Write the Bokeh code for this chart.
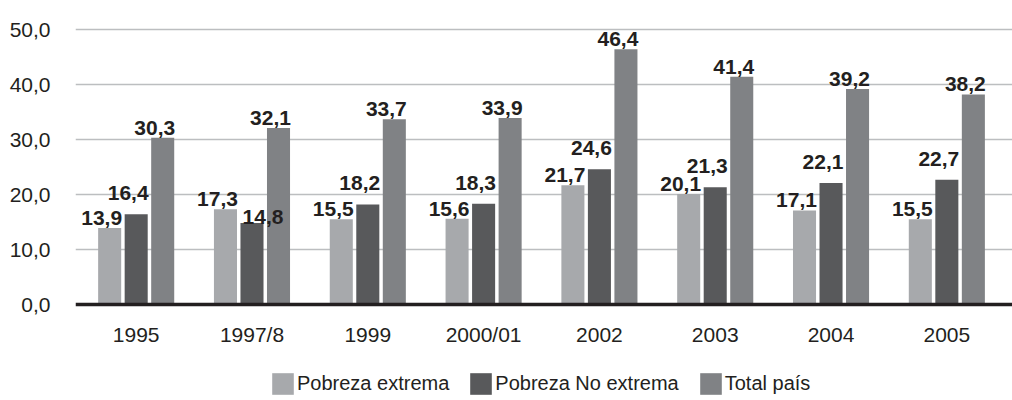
import numpy as np
from bokeh.plotting import figure
from bokeh.models import ColumnDataSource, Range1d, FixedTicker, Legend, LegendItem
from bokeh.core.properties import value
from bokeh.embed import file_html
from bokeh.resources import INLINE

categories = ["1995", "1997/8", "1999", "2000/01", "2002", "2003", "2004", "2005"]
pobreza_extrema = [13.9, 17.3, 15.5, 15.6, 21.7, 20.1, 17.1, 15.5]
pobreza_no_extrema = [16.4, 14.8, 18.2, 18.3, 24.6, 21.3, 22.1, 22.7]
total_pais = [30.3, 32.1, 33.7, 33.9, 46.4, 41.4, 39.2, 38.2]
y_ticks = [0, 10, 20, 30, 40, 50]
series_names = ["Pobreza extrema", "Pobreza No extrema", "Total país"]
colors = ["#a7a9ac", "#58595b", "#808285"]

FONT = "Liberation Sans"
TEXT_COLOR = "#231f20"

x = np.arange(len(categories), dtype=float)
ext = np.array(pobreza_extrema)
noext = np.array(pobreza_no_extrema)
tot = np.array(total_pais)

p = figure(width=1012, height=400, output_backend="svg", toolbar_location=None,
           x_range=Range1d(-0.524, 7.567), y_range=Range1d(-17.45, 52),
           min_border_left=75, min_border_right=0, min_border_top=18,
           min_border_bottom=0)

bw = 0.199
off = 0.229
series = [ext, noext, tot]
offsets = [-off, 0.0, off]

# label placement (screen px) derived from data
dark_up = noext > ext
dx = [np.full(len(x), -8.0), np.where(dark_up, -8.0, 11.0), np.full(len(x), -8.0)]
dy = [np.full(len(x), -10.0), np.where(dark_up, -21.0, -6.0), np.full(len(x), -10.0)]

renderers = []
sources = []
for vals, o, c, ddx, ddy in zip(series, offsets, colors, dx, dy):
    src = ColumnDataSource(dict(
        x=x + o, top=vals,
        lab=[f"{v:.1f}".replace(".", ",") for v in vals],
        dx=ddx, dy=ddy))
    sources.append(src)
    r = p.vbar(x="x", top="top", width=bw, bottom=0, source=src,
               fill_color=c, line_color=None)
    renderers.append(r)

for src in sources:
    p.text(x="x", y="top", text="lab", source=src, x_offset="dx", y_offset="dy",
           text_align="center", text_baseline="alphabetic",
           text_font=value(FONT), text_font_style="bold",
           text_font_size="21px", text_color=TEXT_COLOR)

# axes
p.xaxis.fixed_location = 0
p.xaxis.ticker = FixedTicker(ticks=list(x))
p.xaxis.major_label_overrides = {float(i): c for i, c in enumerate(categories)}
p.xaxis.major_tick_line_color = None
p.xaxis.minor_tick_line_color = None
p.xaxis.axis_line_color = "#231f20"
p.xaxis.axis_line_width = 3.5
p.xaxis.major_label_standoff = 12
p.xaxis.major_label_text_font = FONT
p.xaxis.major_label_text_font_size = "21px"
p.xaxis.major_label_text_color = TEXT_COLOR

p.yaxis.ticker = FixedTicker(ticks=y_ticks)
p.yaxis.major_label_overrides = {t: f"{t:.1f}".replace(".", ",") for t in y_ticks}
p.yaxis.axis_line_color = None
p.yaxis.major_tick_line_color = None
p.yaxis.minor_tick_line_color = None
p.yaxis.major_label_standoff = 19
p.yaxis.major_label_text_font = FONT
p.yaxis.major_label_text_font_size = "21px"
p.yaxis.major_label_text_color = TEXT_COLOR

p.xgrid.grid_line_color = None
p.ygrid.ticker = FixedTicker(ticks=y_ticks[1:])
p.ygrid.grid_line_color = "#bcbec0"
p.ygrid.grid_line_width = 1.5
p.outline_line_color = None

legend = Legend(items=[LegendItem(label=n, renderers=[r]) for n, r in zip(series_names, renderers)],
                orientation="horizontal", location=(194, 3),
                glyph_width=27, glyph_height=27, label_standoff=1, spacing=18,
                padding=0, margin=0, border_line_color=None, background_fill_alpha=0,
                label_text_font=FONT, label_text_font_size="20px",
                label_text_color=TEXT_COLOR)
p.add_layout(legend, "center")

open("out.html", "w").write(file_html(p, INLINE))
